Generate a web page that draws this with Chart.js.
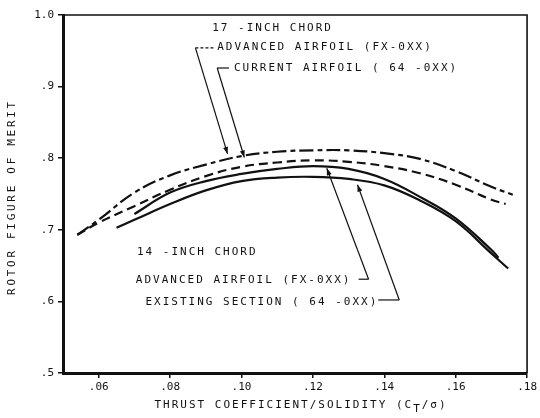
<!DOCTYPE html>
<html>
<head>
<meta charset="utf-8">
<script src="https://cdn.jsdelivr.net/npm/chart.js@4/dist/chart.umd.min.js"></script>
<style>
  html,body{margin:0;padding:0;background:#fff}
  #wrap{width:540px;height:418px}
</style>
</head>
<body>
<div id="wrap"><canvas id="c" width="540" height="418"></canvas></div>
<script>
// thrust coefficient / solidity (x) and figure of merit (y)
const ct17Adv = [0.054,0.06,0.07,0.08,0.09,0.10,0.11,0.12,0.13,0.14,0.15,0.16,0.17,0.176];
const fm17Adv = [0.693,0.714,0.752,0.776,0.791,0.803,0.809,0.811,0.811,0.807,0.799,0.782,0.760,0.749];

const ct17Cur = [0.054,0.06,0.07,0.08,0.09,0.10,0.11,0.12,0.13,0.14,0.15,0.16,0.17,0.174];
const fm17Cur = [0.693,0.710,0.733,0.756,0.775,0.788,0.794,0.797,0.795,0.789,0.779,0.763,0.742,0.736];

const ct14Adv = [0.070,0.08,0.09,0.10,0.11,0.12,0.13,0.14,0.15,0.16,0.17,0.172];
const fm14Adv = [0.722,0.752,0.768,0.778,0.785,0.789,0.785,0.771,0.746,0.716,0.672,0.661];

const ct14Ext = [0.065,0.07,0.08,0.09,0.10,0.11,0.12,0.13,0.14,0.15,0.16,0.17,0.1747];
const fm14Ext = [0.703,0.714,0.736,0.755,0.768,0.773,0.774,0.771,0.762,0.741,0.712,0.667,0.646];

const xTicks = [0.06,0.08,0.10,0.12,0.14,0.16,0.18];
const yTicks = [0.5,0.6,0.7,0.8,0.9,1.0];

const INK = '#111';
const MONO = '"DejaVu Sans Mono", "Liberation Mono", monospace';

const pts = (xs, ys) => xs.map((x,i) => ({x, y: ys[i]}));

function curve(label, xs, ys, dash){
  return {
    label, data: pts(xs, ys),
    borderColor: INK, borderWidth: 2.2, borderDash: dash,
    pointRadius: 0, tension: 0.4, fill: false
  };
}

// callouts, anchored in data units
const labels = [
  {text:'17 -INCH CHORD', x:0.0918, y:0.982},
  {text:'ADVANCED AIRFOIL (FX-0XX)', x:0.0932, y:0.955},
  {text:'CURRENT AIRFOIL ( 64 -0XX)', x:0.0979, y:0.926},
  {text:'14 -INCH CHORD', x:0.0707, y:0.669},
  {text:'ADVANCED AIRFOIL (FX-0XX)', x:0.0704, y:0.630},
  {text:'EXISTING SECTION ( 64 -0XX)', x:0.0731, y:0.599}
];
const leaders = [
  {stub:[0.0923,0.954], from:[0.0871,0.954], tip:[0.0961,0.806], dashed:true},
  {stub:[0.0965,0.926], from:[0.0932,0.926], tip:[0.1008,0.801]},
  {stub:[0.1328,0.631], from:[0.1356,0.631], tip:[0.1239,0.786]},
  {stub:[0.1383,0.602], from:[0.1442,0.602], tip:[0.1325,0.763]}
];

const decor = {
  id: 'decor',
  afterDraw(chart){
    const c = chart.ctx, a = chart.chartArea;
    const X = v => chart.scales.x.getPixelForValue(v);
    const Y = v => chart.scales.y.getPixelForValue(v);
    c.save();
    // top / right frame
    c.strokeStyle = INK; c.lineWidth = 1.6;
    c.beginPath(); c.moveTo(a.left, a.top); c.lineTo(a.right, a.top); c.lineTo(a.right, a.bottom); c.stroke();

    c.fillStyle = INK;
    c.font = '11px ' + MONO;
    c.textBaseline = 'middle';
    c.letterSpacing = '2px';
    labels.forEach(l => c.fillText(l.text, X(l.x), Y(l.y)));

    // leader lines with arrowheads
    c.lineWidth = 1.2;
    leaders.forEach(l => {
      const x0 = X(l.from[0]), y0 = Y(l.from[1]);
      const xs = X(l.stub[0]), yt = Y(l.tip[1]), xt = X(l.tip[0]);
      c.setLineDash(l.dashed ? [3,2] : []);
      c.beginPath(); c.moveTo(x0, y0); c.lineTo(xs, Y(l.stub[1])); c.stroke();
      c.setLineDash([]);
      c.beginPath(); c.moveTo(x0, y0); c.lineTo(xt, yt); c.stroke();
      const ang = Math.atan2(yt - y0, xt - x0);
      c.beginPath();
      c.moveTo(xt, yt);
      c.lineTo(xt - 7*Math.cos(ang) + 2.5*Math.sin(ang), yt - 7*Math.sin(ang) - 2.5*Math.cos(ang));
      c.lineTo(xt - 7*Math.cos(ang) - 2.5*Math.sin(ang), yt - 7*Math.sin(ang) + 2.5*Math.cos(ang));
      c.closePath(); c.fill();
    });

    // axis titles
    c.textAlign = 'center';
    c.save();
    c.letterSpacing = '2.7px';
    c.translate(12, (a.top + a.bottom)/2 + 3);
    c.rotate(-Math.PI/2);
    c.fillText('ROTOR FIGURE OF MERIT', 0, 0);
    c.restore();

    const parts = [['THRUST COEFFICIENT/SOLIDITY (C',0],['T',4],['/σ)',0]];
    c.textAlign = 'left';
    const w = parts.reduce((s,p) => s + c.measureText(p[0]).width, 0);
    let x = (a.left + a.right)/2 + 6 - w/2;
    parts.forEach(p => { c.fillText(p[0], x, 405 + p[1]); x += c.measureText(p[0]).width; });
    c.restore();
  }
};

new Chart(document.getElementById('c'), {
  type: 'line',
  data: {
    datasets: [
      curve('17-inch chord, advanced airfoil (FX-0XX)', ct17Adv, fm17Adv, [14,4,5,4]),
      curve('17-inch chord, current airfoil (64-0XX)', ct17Cur, fm17Cur, [9,5]),
      curve('14-inch chord, advanced airfoil (FX-0XX)', ct14Adv, fm14Adv, []),
      curve('14-inch chord, existing section (64-0XX)', ct14Ext, fm14Ext, [])
    ]
  },
  options: {
    responsive: false,
    animation: false,
    devicePixelRatio: 1,
    layout: { padding: { top: 15, right: 7, left: 0, bottom: 0 } },
    plugins: { legend: { display: false }, tooltip: { enabled: false } },
    scales: {
      x: {
        type: 'linear', min: 0.05, max: 0.18,
        afterBuildTicks: s => { s.ticks = xTicks.map(v => ({value: v})); },
        afterFit: s => { s.height = 45; },
        ticks: {
          color: INK, font: { family: MONO, size: 11 }, padding: 3, maxRotation: 0,
          callback: v => '.' + String(Math.round(v*100)).padStart(2,'0')
        },
        grid: { drawOnChartArea: false, tickLength: 5, color: INK, lineWidth: 1.5 },
        border: { color: INK, width: 3 }
      },
      y: {
        type: 'linear', min: 0.5, max: 1.0,
        afterBuildTicks: s => { s.ticks = yTicks.map(v => ({value: v})); },
        afterFit: s => { s.width = 63; },
        ticks: {
          color: INK, font: { family: MONO, size: 11 }, padding: 4,
          callback: v => v >= 1 ? '1.0' : '.' + Math.round(v*10)
        },
        grid: { drawOnChartArea: false, tickLength: 5, color: INK, lineWidth: 1.5 },
        border: { color: INK, width: 3 }
      }
    }
  },
  plugins: [decor]
});
</script>
</body>
</html>
